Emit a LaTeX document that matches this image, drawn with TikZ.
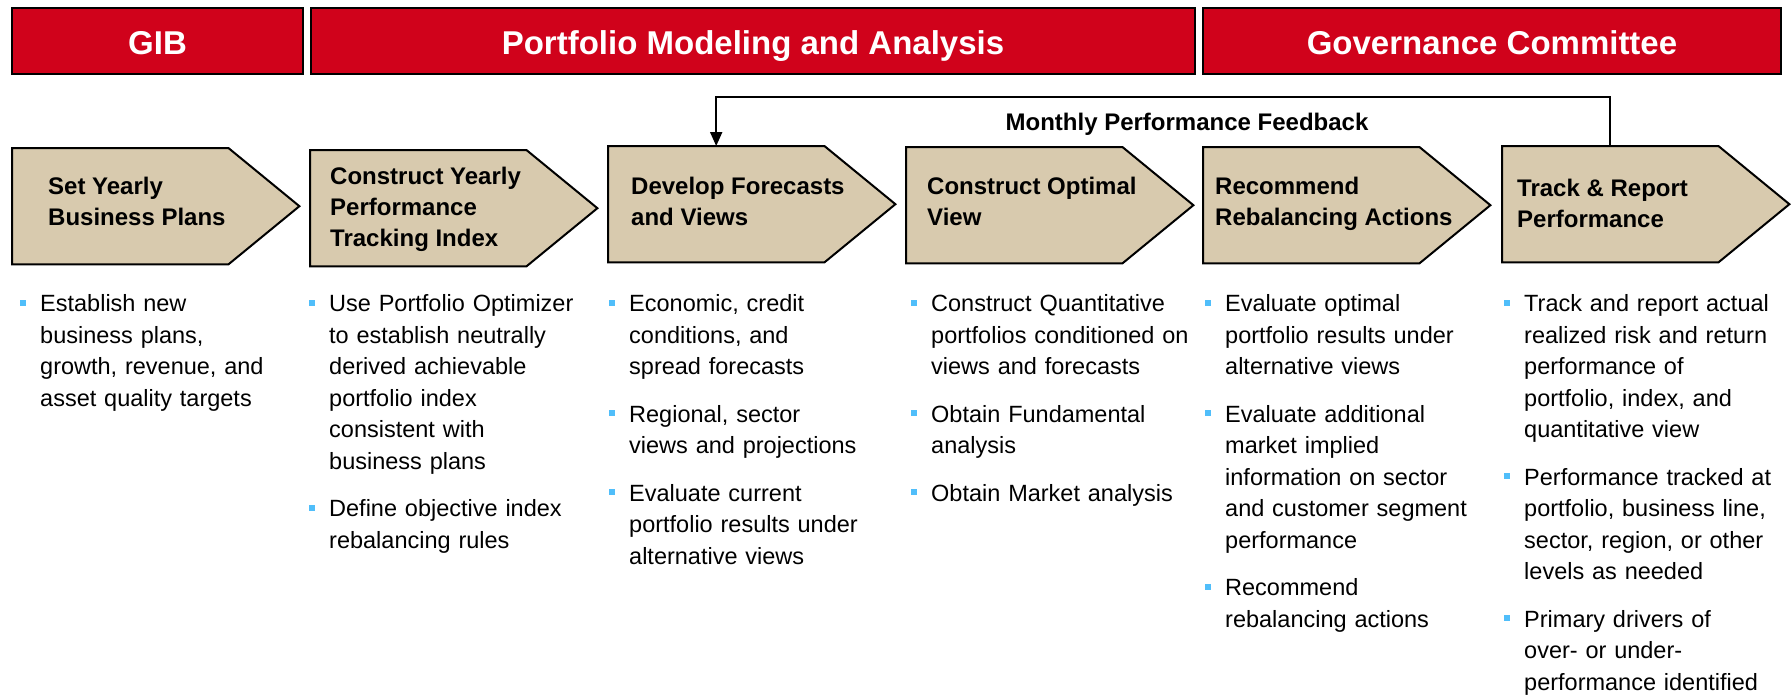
\documentclass[tikz,border=0pt]{standalone}
\usepackage{fontspec}
\setmainfont{Liberation Sans}
\usetikzlibrary{arrows.meta}

\definecolor{hdrred}{RGB}{208,2,27}
\definecolor{stagefill}{RGB}{216,202,174}
\definecolor{bulblue}{RGB}{80,190,250}

% square bullet with hanging indent; \nbul starts a following item
\newcommand{\bul}{\par\hangindent=20pt\hangafter=1\noindent\makebox[20pt][l]{\textcolor{bulblue}{\rule[6pt]{6pt}{6pt}}}\strut}
\newcommand{\nbul}{\par\vspace{16pt}\bul}

\begin{document}
\begin{tikzpicture}[x=1pt,y=-1pt,
  hdr/.style={draw=black, line width=2pt, fill=hdrred, text=white,
    font=\fontsize{33}{40}\selectfont\bfseries, anchor=north west,
    inner sep=0pt, minimum height=66pt, text height=30pt, text depth=4pt},
  body/.style={anchor=north west, inner sep=0pt, minimum width=216pt, minimum height=116pt},
  chev/.style={draw=black, line width=2pt, fill=stagefill, line join=miter},
  ttl/.style={anchor=north west, align=left, inner sep=0pt,
    font=\fontsize{24}{31}\selectfont\bfseries},
  pts/.style={anchor=north west, inner sep=0pt, text width=290pt, align=left,
    font=\fontsize{23.5}{31.5}\selectfont},
  fbline/.style={draw=black, line width=2pt, -{Triangle[width=12pt,length=14pt]}},
  fblabel/.style={anchor=base, inner sep=0pt, font=\fontsize{24}{29}\selectfont\bfseries}
]
\useasboundingbox (0,0) rectangle (1791,696);

% header bars
\node[hdr, minimum width=291pt] (hgib) at (11,7) {GIB};
\node[hdr, minimum width=884pt] (hpma) at (310,7) {Portfolio Modeling and Analysis};
\node[hdr, minimum width=578pt] (hgov) at (1202,7) {Governance Committee};

% process stages: body rectangle plus pointed end
\node[body] (s1) at (12,148) {};
\node[body] (s2) at (310,150) {};
\node[body] (s3) at (608,146) {};
\node[body] (s4) at (906,147) {};
\node[body] (s5) at (1203,147) {};
\node[body] (s6) at (1502,146) {};
\foreach \s in {s1,s2,s3,s4,s5,s6}{
  \draw[chev] (\s.north west) -- (\s.north east) -- ([xshift=71pt]\s.east)
    -- (\s.south east) -- (\s.south west) -- cycle;
}

% stage titles
\node[ttl] (t1) at (48,172.3) {\strut Set Yearly\\Business Plans};
\node[ttl] (t2) at (330,162.3) {\strut Construct Yearly\\Performance\\Tracking Index};
\node[ttl] (t3) at (631,172.3) {\strut Develop Forecasts\\and Views};
\node[ttl] (t4) at (927,172.3) {\strut Construct Optimal\\View};
\node[ttl] (t5) at (1215,172.3) {\strut Recommend\\Rebalancing Actions};
\node[ttl] (t6) at (1517,174.3) {\strut Track \& Report\\Performance};

% monthly feedback loop
\coordinate (fbrow) at (0,97);
\draw[fbline] (s6.north) -- (s6.north |- fbrow) -| (s3.north);
\node[fblabel] (fbl) at (1187,130) {Monthly Performance Feedback};

% bullet columns
\node[pts] (p1) at (20,280) {%
  \bul Establish new\newline business plans,\newline growth, revenue, and\newline asset quality targets\par};
\node[pts] (p2) at (309,280) {%
  \bul Use Portfolio Optimizer\newline to establish neutrally\newline derived achievable\newline portfolio index\newline consistent with\newline business plans
  \nbul Define objective index\newline rebalancing rules\par};
\node[pts] (p3) at (609,280) {%
  \bul Economic, credit\newline conditions, and\newline spread forecasts
  \nbul Regional, sector\newline views and projections
  \nbul Evaluate current\newline portfolio results under\newline alternative views\par};
\node[pts] (p4) at (911,280) {%
  \bul Construct Quantitative\newline portfolios conditioned on\newline views and forecasts
  \nbul Obtain Fundamental\newline analysis
  \nbul Obtain Market analysis\par};
\node[pts] (p5) at (1205,280) {%
  \bul Evaluate optimal\newline portfolio results under\newline alternative views
  \nbul Evaluate additional\newline market implied\newline information on sector\newline and customer segment\newline performance
  \nbul Recommend\newline rebalancing actions\par};
\node[pts] (p6) at (1504,280) {%
  \bul Track and report actual\newline realized risk and return\newline performance of\newline portfolio, index, and\newline quantitative view
  \nbul Performance tracked at\newline portfolio, business line,\newline sector, region, or other\newline levels as needed
  \nbul Primary drivers of\newline over- or under-\newline performance identified\par};
\end{tikzpicture}
\end{document}
